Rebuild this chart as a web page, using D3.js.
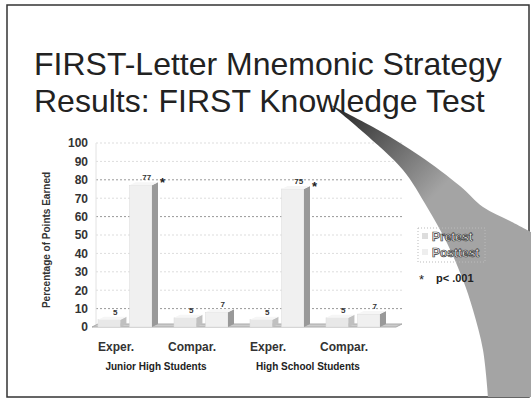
<!DOCTYPE html>
<html>
<head>
<meta charset="utf-8">
<script src="https://cdn.jsdelivr.net/npm/d3@7"></script>
<style>
  body { margin: 0; background: #fff; }
  svg { display: block; font-family: "Liberation Sans", Arial, sans-serif; }
</style>
</head>
<body>
<div id="plot"></div>
<script>
// data
const categories = ["Exper.", "Compar.", "Exper.", "Compar."];
const groups = ["Junior High Students", "High School Students"];
const series = ["Pretest", "Posttest"];
const pretest = [4, 5, 4, 5];
const posttest = [77, 8, 75, 7];
const valueLabels = [["5", "77"], ["5", "7"], ["5", "75"], ["5", "7"]];
const starred = [true, false, true, false];
const yTicks = [0, 10, 20, 30, 40, 50, 60, 70, 80, 90, 100];

const w = 531, h = 403;
const svg = d3.select("#plot").append("svg").attr("width", w).attr("height", h);

// slide frame
svg.append("rect").attr("x", 7).attr("y", 5).attr("width", 522).attr("height", 392)
  .attr("fill", "none").attr("stroke", "#333").attr("stroke-width", 1.5);

// title
const title = svg.append("text").attr("font-size", 32).attr("fill", "#222");
title.append("tspan").attr("x", 34).attr("y", 75).text("FIRST-Letter Mnemonic Strategy");
title.append("tspan").attr("x", 34).attr("y", 112).text("Results: FIRST Knowledge Test");

// scales
const y = d3.scaleLinear().domain([0, 100]).range([327, 143]);
const x = d3.scaleBand().domain(d3.range(categories.length)).range([92, 396]);
const xs = d3.scaleBand().domain(series).range([6, 66]).paddingInner(0.1);
const dx = 6, dy = -3;

// gridlines
const strong = [10, 60, 80];
svg.append("g").selectAll("line").data(yTicks.filter(d => d > 0)).enter().append("line")
  .attr("x1", 96).attr("x2", 402)
  .attr("y1", d => y(d)).attr("y2", d => y(d))
  .attr("stroke", d => strong.includes(d) ? "#999" : "#ddd")
  .attr("stroke-dasharray", "2,2").attr("stroke-width", 1);

// left wall edge
svg.append("line").attr("x1", 96).attr("x2", 96).attr("y1", y(100)).attr("y2", y(0))
  .attr("stroke", "#e2e2e2");

// y axis labels
const yAxis = d3.axisLeft(y).tickValues(yTicks).tickSize(0).tickPadding(4);
const ya = svg.append("g").attr("transform", "translate(92,0)").call(yAxis);
ya.select(".domain").remove();
ya.selectAll("text").attr("font-size", 12).attr("font-weight", "bold")
  .attr("font-family", "'Liberation Sans', Arial, sans-serif").attr("fill", "#333");

svg.append("text")
  .attr("transform", "translate(50,240) rotate(-90)")
  .attr("text-anchor", "middle").attr("font-size", 10).attr("font-weight", "bold")
  .attr("fill", "#333").text("Percentage of Points Earned");

// floor
svg.append("path")
  .attr("d", `M92,${y(0)} L396,${y(0)} L${396 + dx},${y(0) + dy} L${92 + dx},${y(0) + dy} Z`)
  .attr("fill", "#ccc").attr("stroke", "#aaa");

// bars (3D)
const data = [];
categories.forEach((c, i) => {
  data.push({ i, s: "Pretest", v: pretest[i], lab: valueLabels[i][0] });
  data.push({ i, s: "Posttest", v: posttest[i], lab: valueLabels[i][1] });
});

const bars = svg.append("g").selectAll("g").data(data).enter().append("g");
bars.each(function(d) {
  const g = d3.select(this);
  const x0 = x(d.i) + xs(d.s), bw = xs.bandwidth() - dx;
  const top = y(d.v), base = y(0);
  const front = d.s === "Pretest" ? "#e8e8e8" : "#f0f0f0";
  const side = d.s === "Pretest" ? "#c0c0c0" : "#999";
  g.append("rect").attr("x", x0).attr("y", top).attr("width", bw).attr("height", base - top)
    .attr("fill", front).attr("stroke", "#dadada").attr("stroke-width", 0.5);
  g.append("path")
    .attr("d", `M${x0 + bw},${top} L${x0 + bw + dx},${top + dy} L${x0 + bw + dx},${base + dy} L${x0 + bw},${base} Z`)
    .attr("fill", side);
  g.append("path")
    .attr("d", `M${x0},${top} L${x0 + dx},${top + dy} L${x0 + bw + dx},${top + dy} L${x0 + bw},${top} Z`)
    .attr("fill", "#f6f6f6");
  g.append("text").attr("x", x0 + bw / 2 + 6).attr("y", top + dy - 2)
    .attr("text-anchor", "middle").attr("font-size", 8).attr("font-weight", "bold")
    .attr("fill", "#333").text(d.lab);
});

// significance stars
svg.append("g").selectAll("text").data(categories.map((c, i) => i).filter(i => starred[i])).enter()
  .append("text")
  .attr("x", i => x(i) + xs("Posttest") + xs.bandwidth() + 2)
  .attr("y", i => y(posttest[i]) + 2)
  .attr("font-size", 13).attr("font-weight", "bold").attr("fill", "#222").text("*");

// category labels
svg.append("g").selectAll("text").data(categories).enter().append("text")
  .attr("x", (d, i) => x(i) + x.bandwidth() / 2 - 14)
  .attr("y", 351).attr("text-anchor", "middle")
  .attr("font-size", 12).attr("font-weight", "bold").attr("fill", "#333").text(d => d);

svg.append("g").selectAll("text").data(groups).enter().append("text")
  .attr("x", (d, i) => x(i * 2) + x.bandwidth() - 12)
  .attr("y", 370).attr("text-anchor", "middle")
  .attr("font-size", 10).attr("font-weight", "bold").attr("fill", "#222").text(d => d);

// page curl (scan artefact)
const grad = svg.append("defs").append("linearGradient").attr("id", "curl")
  .attr("gradientUnits", "userSpaceOnUse")
  .attr("x1", 331).attr("y1", 105).attr("x2", 430).attr("y2", 200);
grad.append("stop").attr("offset", 0).attr("stop-color", "#222");
grad.append("stop").attr("offset", 0.55).attr("stop-color", "#6a6a6a");
grad.append("stop").attr("offset", 1).attr("stop-color", "#a4a4a4");
const curlTop = [[331, 105], [380, 131], [420, 156], [460, 186], [483, 207], [510, 221], [531, 232]];
const curlLeft = [[488, 397], [483, 350], [473, 310], [463, 280], [447, 243], [427, 207], [403, 170], [363, 132], [331, 105]];
const curveLine = d3.line().curve(d3.curveCatmullRom);
svg.append("path")
  .attr("d", curveLine(curlTop) + "L531,397" + curveLine(curlLeft).replace(/^M/, "L") + "Z")
  .attr("fill", "url(#curl)");

// legend
svg.append("rect").attr("x", 418).attr("y", 228).attr("width", 67).attr("height", 34)
  .attr("fill", "none").attr("stroke", "#bbb").attr("stroke-dasharray", "1,2");
const leg = svg.append("g").selectAll("g").data(series).enter().append("g")
  .attr("transform", (d, i) => `translate(422,${233 + i * 16})`);
leg.append("rect").attr("width", 6).attr("height", 6).attr("y", 0)
  .attr("fill", (d, i) => i === 0 ? "#ddd" : "#eee");
leg.append("text").attr("x", 10).attr("y", 8).attr("font-size", 12).attr("font-weight", "bold")
  .attr("fill", "#fff").attr("stroke", "#333").attr("stroke-width", 0.7).text(d => d);
svg.append("text").attr("x", 419).attr("y", 284).attr("font-size", 13)
  .attr("fill", "#222").text("*");
svg.append("text").attr("x", 436).attr("y", 282).attr("font-size", 11).attr("font-weight", "bold")
  .attr("fill", "#222").text("p< .001");
</script>
</body>
</html>
